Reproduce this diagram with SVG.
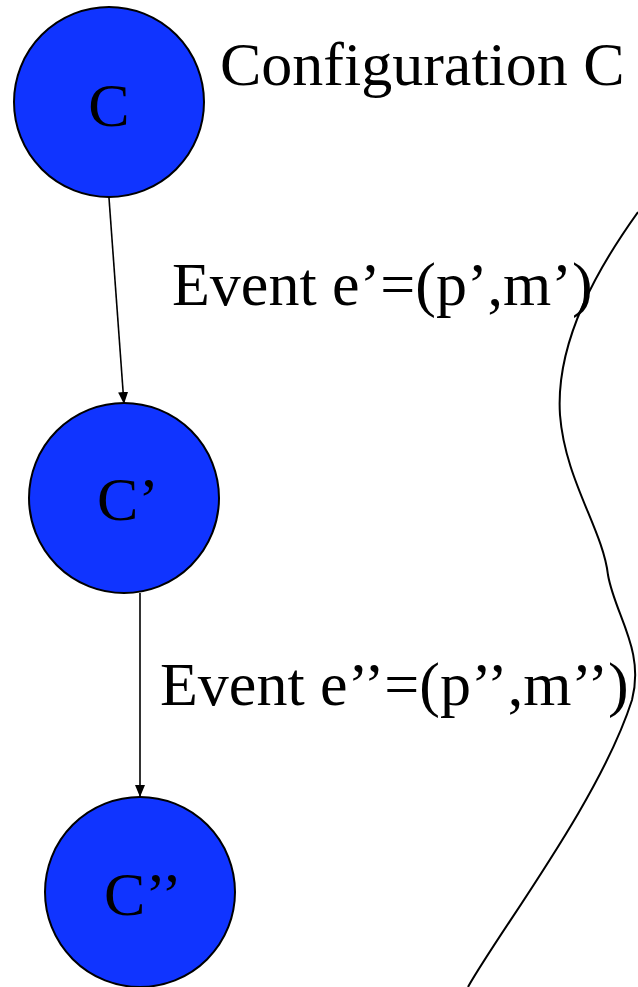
<svg xmlns="http://www.w3.org/2000/svg" width="638" height="987" viewBox="0 0 638 987">
<style>
.node{fill:#1034ff;stroke:#000;stroke-width:2}
.t{font-family:"Liberation Serif","Times New Roman",serif;font-size:62px;fill:#000}
.edge{stroke:#000;stroke-width:1.6;fill:none}
</style>
<defs>
<marker id="ah" viewBox="0 0 12 10" refX="12" refY="5" markerWidth="12" markerHeight="10" markerUnits="userSpaceOnUse" orient="auto">
<path d="M0,0 L12,5 L0,10 z" fill="#000"/>
</marker>
</defs>
<rect width="638" height="987" fill="#fff"/>
<g id="connectors">
<line class="edge" x1="109" y1="198" x2="124" y2="404" marker-end="url(#ah)"/>
<line class="edge" x1="140" y1="593" x2="140" y2="797" marker-end="url(#ah)"/>
</g>
<g id="boundary">
<path class="edge" style="stroke-width:2" d="M 638 212 C 600 265, 555 340, 560 415 C 565 480, 603 530, 608 575 C 615 615, 645 650, 632 700 C 600 800, 500 930, 468 987"/>
</g>
<g id="nodeC">
<circle class="node" cx="109" cy="102" r="95"/>
<text class="t" x="109" y="126" text-anchor="middle">C</text>
</g>
<g id="nodeC1">
<circle class="node" cx="124" cy="498" r="95"/>
<text class="t" x="128" y="520" text-anchor="middle">C’</text>
</g>
<g id="nodeC2">
<circle class="node" cx="140" cy="892" r="95"/>
<text class="t" x="143" y="915" text-anchor="middle">C’’</text>
</g>
<g id="labels">
<text class="t" x="220" y="85">Configuration C</text>
<text class="t" x="172" y="305">Event e’=(p’,m’)</text>
<text class="t" x="160" y="705">Event e’’=(p’’,m’’)</text>
</g>
</svg>
